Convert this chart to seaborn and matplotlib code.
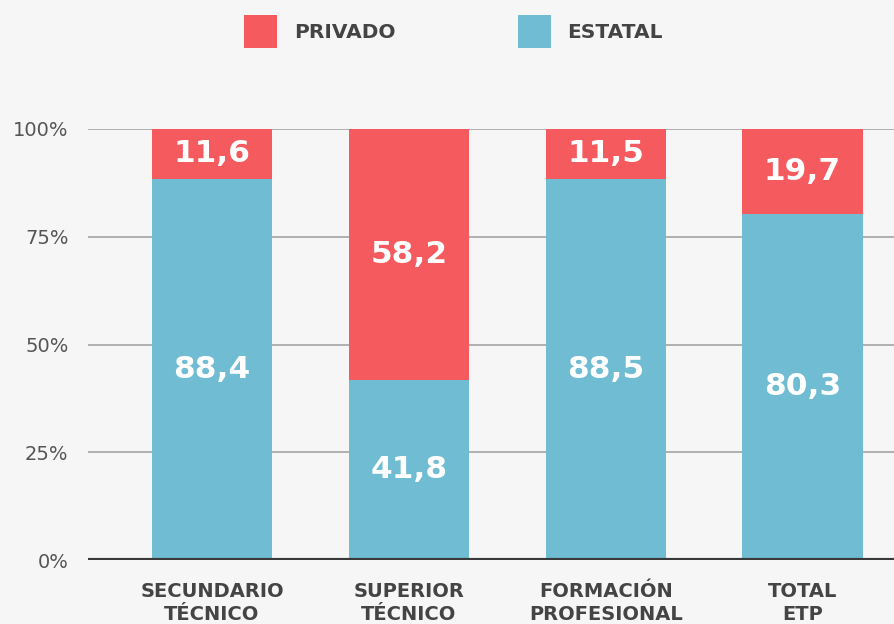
import matplotlib
matplotlib.use("Agg")
import matplotlib.pyplot as plt
import seaborn as sns
import pandas as pd
from matplotlib.patches import Rectangle

categories = ["SECUNDARIO\nTÉCNICO", "SUPERIOR\nTÉCNICO", "FORMACIÓN\nPROFESIONAL", "TOTAL\nETP"]
estatal = [88.4, 41.8, 88.5, 80.3]
privado = [11.6, 58.2, 11.5, 19.7]
yticks = [0, 25, 50, 75, 100]
yticklabels = ["0%", "25%", "50%", "75%", "100%"]
legend_labels = ["PRIVADO", "ESTATAL"]

RED = "#f55a5e"
BLUE = "#6fbcd3"
BG = "#f6f6f6"

sns.set_theme(style="white")
plt.rcParams["font.family"] = ["DejaVu Sans"]

df = pd.DataFrame({"cat": categories, "estatal": estatal, "privado": privado})

W, H = 895, 624
fig = plt.figure(figsize=(8.95, 6.24), dpi=100, facecolor=BG)
ax = fig.add_axes([88 / W, 1 - 560 / H, 1 - 88 / W, (560 - 129) / H])
ax.set_facecolor(BG)

for y in yticks[1:]:
    ax.axhline(y, color="#aaaaaa", lw=1.3, zorder=0)

sns.barplot(data=df, x="cat", y="estatal", color=BLUE, width=0.61, ax=ax,
            saturation=1, zorder=2, linewidth=0)
sns.barplot(data=df, x="cat", y="privado", color=RED, width=0.61, ax=ax,
            saturation=1, zorder=2, linewidth=0, bottom=df["estatal"].values)

for i, (e, p) in enumerate(zip(estatal, privado)):
    ax.text(i, e / 2, f"{e:.1f}".replace(".", ","), ha="center", va="center",
            color="white", fontsize=22.5, fontweight="bold", zorder=3)
    ax.text(i, e + p / 2, f"{p:.1f}".replace(".", ","), ha="center", va="center",
            color="white", fontsize=22.5, fontweight="bold", zorder=3)

ax.axhline(0, color="#3a3a3a", lw=3, zorder=4)
ax.set_ylim(0, 100)
ax.set_xlim(-0.63, 3.47)
ax.set_yticks(yticks)
ax.set_yticklabels(yticklabels, fontsize=14, color="#555555")
ax.tick_params(axis="y", length=0, pad=14)
ax.tick_params(axis="x", length=0, pad=15.5)
ax.set_xticks(range(len(categories)))
ax.set_xticklabels(categories, fontsize=14, color="#444444", fontweight="bold",
                   linespacing=1.3)
ax.set_xlabel("")
ax.set_ylabel("")
for s in ax.spines.values():
    s.set_visible(False)

# legend
for (px, tx), lab, col in zip([(244, 294), (518, 567)], legend_labels, [RED, BLUE]):
    fig.patches.append(Rectangle((px / W, 1 - 48 / H), 33 / W, 33 / H,
                                 transform=fig.transFigure, facecolor=col,
                                 edgecolor="none"))
    fig.text(tx / W, 1 - 32.5 / H, lab, ha="left", va="center", fontsize=14.5,
             fontweight="bold", color="#444444")

fig.savefig("out.png", dpi=100, facecolor=BG)
